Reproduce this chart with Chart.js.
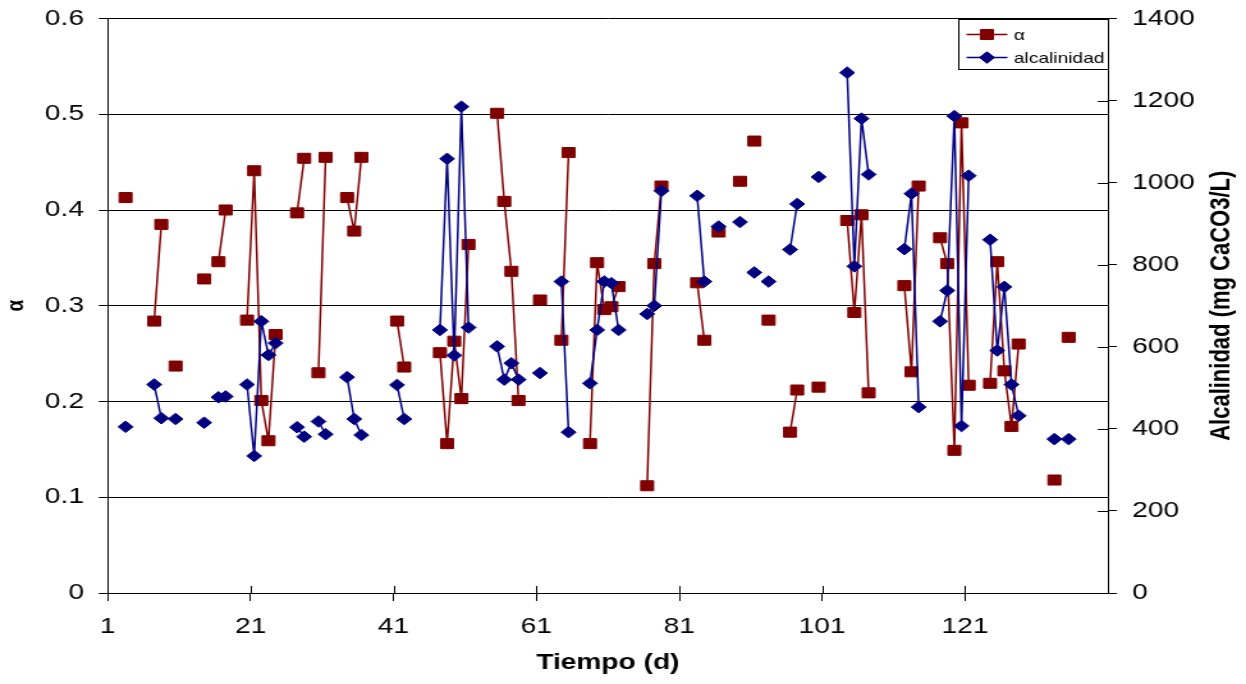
<!DOCTYPE html>
<html><head><meta charset="utf-8">
<script src="https://cdn.jsdelivr.net/npm/chart.js@4.4.0/dist/chart.umd.min.js"></script>
<style>html,body{margin:0;padding:0;background:#fff;overflow:hidden}</style></head>
<body><canvas id="c" width="974" height="684" style="display:block;width:1246px;height:684px"></canvas>
<script>
// ---- data ----
const tiempo = [3.5,7.5,8.5,10.5,14.5,16.5,17.5,20.5,21.5,22.5,23.5,24.5,27.5,28.5,30.5,31.5,34.5,35.5,36.5,41.5,42.5,47.5,48.5,49.5,50.5,51.5,55.5,56.5,57.5,58.5,61.5,64.5,65.5,68.5,69.5,70.5,71.5,72.5,76.5,77.5,78.5,83.5,84.5,86.5,89.5,91.5,93.5,96.5,97.5,100.5,104.5,105.5,106.5,107.5,112.5,113.5,114.5,117.5,118.5,119.5,120.5,121.5,124.5,125.5,126.5,127.5,128.5,133.5,135.5];
const alphaValores = [0.413,0.284,0.385,0.237,0.328,0.346,0.400,0.285,0.441,0.201,0.159,0.270,0.397,0.454,0.230,0.455,0.413,0.378,0.455,0.284,0.236,0.251,0.156,0.263,0.203,0.364,0.501,0.409,0.336,0.201,0.306,0.264,0.460,0.156,0.345,0.296,0.299,0.320,0.112,0.344,0.425,0.324,0.264,0.377,0.430,0.472,0.285,0.168,0.212,0.215,0.389,0.293,0.395,0.209,0.321,0.231,0.425,0.371,0.344,0.149,0.491,0.217,0.219,0.346,0.232,0.174,0.260,0.118,0.267];
const alcalinidadValores = [405,508,426,424,415,477,479,508,334,662,580,609,404,381,418,387,526,424,385,507,424,641,1058,579,1185,647,601,520,560,520,536,759,392,511,641,759,755,641,680,700,980,968,759,893,904,781,759,837,948,1014,1268,796,1156,1020,838,973,453,662,737,1162,407,1017,861,591,746,508,432,375,375];
const xTicks = [1,21,41,61,81,101,121];
const serieNombres = ['α','alcalinidad'];
const ejeX = 'Tiempo (d)';
const ejeY1 = 'α';
const ejeY2 = 'Alcalinidad (mg CaCO3/L)';

const RED = '#800000', BLUE = '#000080';
const FONT = '"Liberation Sans", Arial, sans-serif';
Chart.defaults.font.family = FONT;
Chart.defaults.color = '#000';

// break the line wherever consecutive days are missing
function toPoints(xs, ys) {
  const pts = [];
  for (let i = 0; i < xs.length; i++) {
    if (i > 0 && xs[i] - xs[i-1] > 1.01) pts.push({x: (xs[i] + xs[i-1]) / 2, y: null});
    pts.push({x: xs[i], y: ys[i]});
  }
  return pts;
}

const extras = {
  id: 'extras',
  afterDraw(chart) {
    const {ctx, chartArea: a, scales} = chart;
    ctx.save();
    ctx.strokeStyle = '#000';
    ctx.lineWidth = 1;
    ctx.beginPath();
    scales.x.ticks.forEach(t => {
      const px = Math.round(scales.x.getPixelForValue(t.value)) + 0.5;
      ctx.moveTo(px, a.bottom); ctx.lineTo(px, a.bottom - 7);
    });
    scales.y2.ticks.forEach(t => {
      const py = Math.round(scales.y2.getPixelForValue(t.value)) + 0.5;
      ctx.moveTo(a.right, py); ctx.lineTo(a.right - 8, py);
    });
    ctx.stroke();

    // right axis title (reads bottom to top)
    ctx.save();
    ctx.translate(955, (a.top + a.bottom) / 2);
    ctx.rotate(-Math.PI / 2);
    ctx.font = 'bold 22px ' + FONT;
    ctx.textAlign = 'center';
    ctx.textBaseline = 'middle';
    ctx.fillStyle = '#000';
    ctx.fillText(ejeY2, 0, 0);
    ctx.restore();

    // legend
    const bx = Math.round(a.right - 117) + 0.5, by = Math.round(a.top) + 0.5, bw = Math.round(a.right) + 0.5 - bx, bh = 50;
    ctx.fillStyle = '#fff';
    ctx.fillRect(bx, by, bw, bh);
    ctx.strokeStyle = '#000';
    ctx.strokeRect(bx, by, bw, bh);
    const rows = [
      {y: by + 15, color: RED, style: 'rect', r: 7.1, label: serieNombres[0]},
      {y: by + 38, color: BLUE, style: 'rectRot', r: 5.8, label: serieNombres[1]}
    ];
    rows.forEach(r => {
      ctx.strokeStyle = r.color; ctx.lineWidth = 1.5;
      ctx.beginPath(); ctx.moveTo(bx + 6, r.y); ctx.lineTo(bx + 38, r.y); ctx.stroke();
      ctx.fillStyle = r.color; ctx.strokeStyle = r.color; ctx.lineWidth = 1;
      Chart.helpers.drawPoint(ctx, {pointStyle: r.style, radius: r.r, borderWidth: 1, rotation: 0}, bx + 22, r.y);
      ctx.fillStyle = '#000';
      ctx.font = '15px ' + FONT;
      ctx.textAlign = 'left'; ctx.textBaseline = 'middle';
      ctx.fillText(r.label, bx + 43, r.y + 1);
    });
    ctx.restore();
  }
};

function noPad(s) { s.paddingTop = 0; s.paddingBottom = 0; }

new Chart(document.getElementById('c'), {
  type: 'line',
  data: {
    datasets: [
      {label: serieNombres[0], data: toPoints(tiempo, alphaValores), yAxisID: 'y', order: 1,
       borderColor: RED, backgroundColor: RED, borderWidth: 1.5,
       pointStyle: 'rect', pointRadius: 7.1, pointBorderWidth: 1, pointBorderColor: RED, pointBackgroundColor: RED,
       spanGaps: false, tension: 0},
      {label: serieNombres[1], data: toPoints(tiempo, alcalinidadValores), yAxisID: 'y2', order: 0,
       borderColor: BLUE, backgroundColor: BLUE, borderWidth: 1.5,
       pointStyle: 'rectRot', pointRadius: 5.8, pointBorderWidth: 1, pointBorderColor: BLUE, pointBackgroundColor: BLUE,
       spanGaps: false, tension: 0}
    ]
  },
  options: {
    responsive: false,
    animation: false,
    devicePixelRatio: 1,
    events: [],
    layout: {padding: {top: 18.5, left: 0, right: 0, bottom: 0}},
    plugins: {legend: {display: false}, tooltip: {enabled: false}},
    scales: {
      x: {
        type: 'linear', min: 1, max: 141,
        afterBuildTicks: s => { s.ticks = xTicks.map(v => ({value: v})); },
        afterFit: s => { s.height = 91; s.paddingLeft = 0; s.paddingRight = 0; },
        ticks: {font: {size: 22}, padding: 13, maxRotation: 0, autoSkip: false, callback: v => String(v)},
        grid: {drawOnChartArea: false, tickLength: 8, color: '#000'},
        border: {color: '#000', width: 1},
        title: {display: true, text: ejeX, font: {size: 22, weight: 'bold'}, padding: {top: 0, bottom: 8}}
      },
      y: {
        position: 'left', min: 0, max: 0.6,
        afterFit: s => { s.width = 84.2; noPad(s); },
        ticks: {stepSize: 0.1, font: {size: 22}, padding: 11.5, callback: v => String(Math.round(v * 10) / 10)},
        grid: {color: '#000', tickLength: 7},
        border: {color: '#000', width: 1},
        title: {display: true, text: ejeY1, font: {size: 19, weight: 'bold'}, padding: {top: 1, bottom: 0}}
      },
      y2: {
        position: 'right', min: 0, max: 1400,
        afterFit: s => { s.width = 974 - 866.1; noPad(s); },
        ticks: {stepSize: 200, font: {size: 22}, padding: 12, callback: v => String(v)},
        grid: {drawOnChartArea: false, color: '#000', tickLength: 7},
        border: {color: '#000', width: 1}
      }
    }
  },
  plugins: [extras]
});
</script>
</body></html>
